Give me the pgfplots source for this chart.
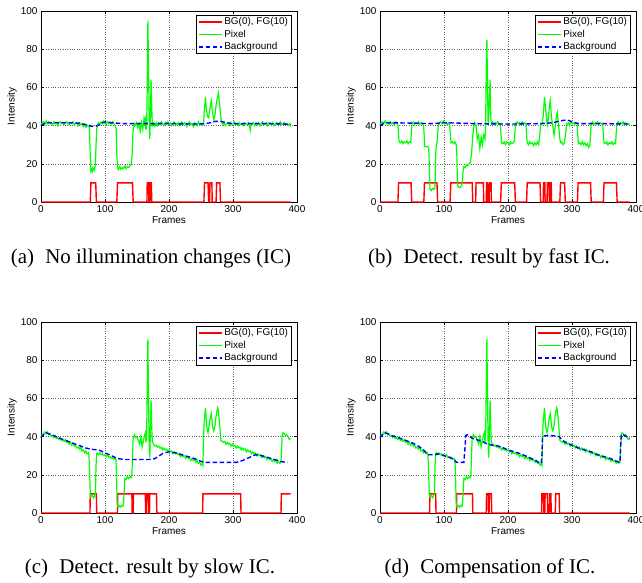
\documentclass[border=0pt]{standalone}
\usepackage{fontspec}
\setmainfont{Liberation Serif}
\newfontfamily\hv{Liberation Sans}
\usepackage{pgfplots}
\usepackage{pgfplotstable}
\pgfplotsset{compat=1.18}

% ---------- data ----------
\pgfplotstableread{
x y
0 40
2 41.5
4 42
6 40.5
8 42.5
10 41
12 42
14 41
16 41.5
18 40.5
20 42
22 41
24 41.5
26 40
28 41.5
30 42
32 41
34 41.5
36 40.5
38 41.5
40 42
42 41
44 40.5
46 41.5
48 41
50 42
52 40.5
54 41
56 41.5
58 40
60 41.5
62 40.5
64 41
66 39.5
68 40.5
70 39
72 40
74 39.5
75.5 40
76.5 30
77.5 18
78 16
79 17
80 16
81 18
82 17
83 16.5
84 18
85 19
86 30
87 38
88 40
90 41.5
92 40.5
94 42
96 41
98 42.5
100 41
102 40.5
104 42
106 41
108 41.5
110 40.5
112 42
114 41
116 40
117.5 38
118.5 25
119.5 18
121 17
123 18.5
125 17
127 18
129 17.5
131 19
133 17.5
135 18.5
137 18
139 19
141 19.5
142.5 25
143.5 35
144.5 39
145.5 41
147 40
149 41.5
151 39
153 41
155 37
157 41.5
159 38
161 44
163 40
164 45
165 38
166 60
167 95
168 70
169 45
170 33
171 45
172 64
173 50
174 40
176 41
178 39.5
180 41.5
182 40
184 41.5
186 40.5
188 42
190 41
192 40
194 41.5
196 41
198 42
200 40.5
202 41.5
204 40
206 41
208 42
210 41
212 40.5
214 41.5
216 40
218 41
220 42
222 40.5
224 41.5
226 41
228 39.5
230 41
232 42
234 40.5
236 41
238 39.5
240 41.5
242 41
244 40
246 42
248 40.5
250 41
252 40
254 41
255 47
257 55
258 50
260 45
262 44
264 49
266 53
268 47
270 43
272 46
274 52
276 55
277 57
279 52
281 44
282 42
284 40.5
286 41.5
288 40
290 41
292 41.5
294 40
296 41.5
298 40.5
300 41
302 42
304 40.5
306 41
308 40
310 41.5
312 40.5
314 41
316 40
318 41.5
320 41
322 40.5
324 41.5
326 39
327 37.5
328 40
330 41
332 41.5
334 40
336 41.5
338 40.5
340 41.5
342 40
344 41
346 42
348 40.5
350 41
352 41.5
354 40
356 41.5
358 41
360 40.5
362 41.5
364 40
366 41
368 41.5
370 40.5
372 41
374 42
376 40.5
378 41
380 41.5
382 40.5
384 41
386 40
388 41
390 39.5
}\pixA

\pgfplotstableread{
x y
0 40
5 41
10 41.5
30 41.5
50 41.5
60 41.2
70 40.5
78 39.7
84 39.5
90 40.2
96 41.5
102 42
110 41.5
130 41
150 41
200 41
240 40.8
255 41
265 41.5
272 42.2
280 42.3
290 41.5
300 41
330 41
360 41
390 40.7
}\bgA

\pgfplotstableread{
x y
0 0
77 0
78 10
85.5 10
86.5 0
118.5 0
119.5 10
143 10
144 0
165.5 0
166 10
168 10
168.5 0
170 0
170.5 10
172.5 10
173 0
254.5 0
255.5 10
261 10
262 0
263.5 0
264 10
267 10
267.5 0
273.5 0
274.5 10
279.5 10
280.5 0
390 0
}\fgA

\pgfplotstableread{
x y
0 40
2 41.5
4 42
6 41
8 42.5
10 41
12 41.5
14 40.5
16 42
18 41
20 41.5
22 40.5
24 42
26 41.5
28 40
29 35
30 31.5
32 31
34 32
36 30.5
38 31.5
40 31
42 32
44 30.5
46 31.5
48 31
49 36
50 41
52 42
54 40.5
56 41.5
58 41
60 42
62 40.5
64 41.5
66 41
68 40.5
69 35
70 29
72 29
74 29
76 28.5
77 20
78 7
80 6
82 7
84 6.5
86 8
87 25
88 30
89 31
90 35
91 40
93 41.5
95 42
97 41
99 42.5
101 41
103 41.5
105 40.5
107 41.5
109 40
110 35
111 31
113 31.5
115 30.5
117 31.5
119 30
120 25
121 10
122 8
124 7.5
126 8
128 9
129 12
130 17
131 18.5
133 18
135 19.5
137 19
139 20
141 20.5
143 25
145 35
147 40
148 41.5
150 40
152 33
154 35
156 28
158 34
160 30
162 35
164 33
165 40
166 70
167 85
168 60
169 40
170 45
171 55
172 64
173 45
174 41
176 42
178 40.5
180 41.5
182 41
184 42
186 40.5
188 41
189 35
190 31
192 30.5
194 31.5
196 30
198 31.5
200 31
202 30
204 31.5
206 30.5
208 31
210 32
211 38
212 41
214 42
216 41
218 41.5
220 40.5
222 42
224 41
226 41.5
228 40.5
229 35
230 31
232 30
234 31.5
236 30.5
238 31
240 29.5
242 31
244 30
246 31.5
248 30
250 36
251 41
253 40.5
255 45
257 55
259 48
261 41
262 40
264 48
266 53
268 44
270 40
272 35
274 40
276 46
277 47
279 40
281 33
282 31
284 31.5
286 30
288 31
290 36
292 41
294 41.5
296 40
298 42
300 41
302 41.5
304 40.5
306 41.5
308 41
309 35
310 30.5
312 31
314 30
316 31.5
318 30
320 31
322 29.5
324 30.5
326 28.5
328 30
329 36
330 41
332 42
334 40.5
336 41.5
338 41
340 42
342 40.5
344 41.5
346 41
348 40.5
349 36
350 31
352 30.5
354 31.5
356 30
358 31
360 30.5
362 31.5
364 30
366 31
368 30.5
369 36
370 41
372 42
374 40.5
376 41.5
378 41
380 42
382 41
384 41.5
386 40.5
388 41
390 40
}\pixB

\pgfplotstableread{
x y
0 40
5 41
10 41.5
50 41.3
80 41
100 41.5
150 41
200 40.8
250 41
270 41.5
282 42.5
292 43
300 42
310 41
350 41
390 40.8
}\bgB

\pgfplotstableread{
x y
0 0
28 0
29 10
48.5 10
49.5 0
68.5 0
69.5 10
89 10
90 0
109.5 0
110.5 10
144 10
145 0
149.5 0
150 10
161.5 10
162 0
166 0
166.5 10
168 10
168.5 0
170.5 0
171 10
173.5 10
174 0
188.5 0
189.5 10
210.5 10
211.5 0
229 0
230 10
250 10
251 0
255 0
255.5 10
257.5 10
258 0
261 0
261.5 10
264 10
264.5 0
265.5 0
266 10
267.5 10
268 0
281 0
282 10
288.5 10
289.5 0
308.5 0
309.5 10
329 10
330 0
349 0
350 10
369.5 10
370.5 0
390 0
}\fgB

\pgfplotstableread{
x y
0 39.5
2 41
4 41.5
6 42.5
8 41.5
10 42.5
12 41
14 41.5
16 40
18 40.5
20 39.5
22 40.5
24 39
26 39.5
28 38.5
30 39.5
32 38
34 38.5
36 37.5
38 38.5
40 37
42 37.5
44 36
46 37
48 35.5
50 36.5
52 35
54 35.5
56 34
58 34.5
60 33.5
62 34.5
64 32.5
66 33
68 31.5
70 32.5
72 31
74 31.5
75 30
76 20
77 10
78 8.5
80 9.5
82 8
84 9
85 10
86 25
87 31
88 31.5
90 30.5
92 31.5
94 30.5
96 31
98 30
100 30.5
102 29.5
104 30.5
106 29
108 29.5
110 28.5
112 29
114 28
116 28.5
117 28
118 20
119 5
120 3.5
122 4
124 3
126 4
128 3.5
129 5
130 12
131 18
133 17.5
135 19
137 18
139 19
141 18.5
142 20
143 30
144 39
146 41
148 39.5
150 40
152 38
154 36
156 40
158 34.5
160 38
162 41
163 42
164 37
165 40
166 65
167 91
168 60
169 35
170 29
171 45
172 59
173 45
174 37
176 36
178 35
180 35.5
182 34.5
184 35
186 34
188 34.5
190 33
192 34
194 33
196 33.5
198 32.5
200 33
202 32
204 32.5
206 31
208 32
210 31
212 31.5
214 30.5
216 31
218 29.5
220 30.5
222 29.5
224 30
226 28.5
228 29.5
230 28.5
232 29
234 27.5
236 28.5
238 27.5
240 28
242 26.5
244 27.5
246 26
248 26.5
250 25
252 26
253 25
254 40
255 48
257 55
258 50
259 45
261 42
262 44
264 49
266 52
267 49
268 45
270 43
272 46
274 52
276 55
277 54
279 47
281 38
283 37.5
285 37
287 37.5
289 36
291 37
293 36
295 36.5
297 35
299 36
301 35
303 35.5
305 34
307 35
309 34
311 34.5
313 33
315 34
317 33
319 33.5
321 32
323 33
325 32
327 32.5
329 31
331 32
333 31
335 31.5
337 30
339 31
341 30
343 30.5
345 29
347 30
349 29
351 29.5
353 28
355 29
357 28
359 28.5
361 27
363 28
365 27
367 27.5
369 26
371 27
373 26
375 26.5
376 35
377 41
378 42
380 41.5
382 40.5
384 41
386 40
388 38.5
390 39
}\pixC

\pgfplotstableread{
x y
0 39.5
4 41
8 42
12 41.5
20 40.5
30 39
40 37.8
50 36.5
60 35.3
70 34
80 33.3
90 33
100 31.5
110 30
120 28.5
130 28
150 28
170 28
178 28.5
185 30
192 31.5
200 32
210 31.5
220 30.5
230 29.5
240 28.5
250 27
258 26.5
280 26.5
305 26.5
315 27.5
325 29
335 30.5
345 30
355 29
365 28
375 27
382 26.5
385 26.5
}\bgC

\pgfplotstableread{
x y
0 0
76.5 0
77 10
86.5 10
87 0
119.5 0
120 10
142 10
142.5 0
144 0
144.5 10
163 10
163.5 0
165 0
165.5 10
168 10
168.5 0
169.5 0
170 10
180.5 10
181 0
252.5 0
253 10
312 10
312.5 0
375 0
375.5 10
390 10
}\fgC

\pgfplotstableread{
x y
0 39.5
4 41
8 42
12 41.5
20 40.3
30 39.3
40 38
50 36.8
60 35
68 33
72 31.5
75 30.5
80 30.5
86 30.5
90 31
95 30.5
100 30
105 29.5
110 29
115 28
118 27
120 26.5
131 26.5
133 35
134 40.5
136 41
140 40
145 39
150 38.5
155 38
160 37.5
165 36.5
170 36
175 35.5
180 35.5
190 34.5
200 33
210 32
220 31
230 29.5
240 28
248 26.5
252 26
253 30
254 40
258 40.5
270 40.5
280 40
285 38
290 37
300 35.5
310 34
320 33
330 32
340 30.5
350 29.5
360 28.5
370 27
375 26.5
376 35
377 41
380 41
385 40
390 39
}\bgD

\pgfplotstableread{
x y
0 0
77.5 0
78 10
87 10
87.5 0
119.5 0
120 10
144.5 10
145 0
166 0
166.5 10
169 10
169.5 0
170.5 0
171 10
174 10
174.5 0
252.5 0
253 10
255.5 10
256 0
257.5 0
258 10
261.5 10
262 0
264.5 0
265 10
267 10
267.5 0
274 0
274.5 10
280 10
280.5 0
390 0
}\fgD

\definecolor{mred}{rgb}{1,0,0}
\definecolor{mgreen}{rgb}{0,1,0}
\definecolor{mblue}{rgb}{0,0,1}

\pgfplotsset{
  panel/.style={
    scale only axis, width=256bp, height=191bp,
    anchor=south west,
    xmin=0, xmax=400, ymin=0, ymax=100,
    xtick={0,100,...,400}, ytick={0,20,...,100},
    grid=major,
    major grid style={dotted, black!60, line width=0.5bp},
    tick align=inside, major tick length=3bp,
    axis line style={line width=0.6bp},
    every tick/.style={black, line width=0.5bp},
    clip=false,
    /pgf/number format/assume math mode=true,
    tick label style={font=\hv\fontsize{10}{12}\selectfont},
    label style={font=\hv\fontsize{10}{12}\selectfont},
    xlabel={Frames}, ylabel={Intensity},
    xlabel style={at={(axis description cs:0.5,-0.0969)}, anchor=center},
    ylabel style={at={(axis description cs:-0.1133,0.5)}, anchor=center, rotate=0},
    legend image code/.code={\draw[##1] (0bp,0bp) -- (23bp,0bp);},
    legend cell align=left,
    legend style={at={(0.980,0.979)}, anchor=north east,
      draw=black, line width=0.8bp, fill=white,
      font=\hv\fontsize{10}{12}\selectfont,
      inner xsep=1.5bp, inner ysep=0.5bp, row sep=0bp,
      nodes={inner xsep=2bp, inner ysep=1.5bp, text height=7.2bp, text depth=2.3bp}},
  },
  redl/.style={mred, line width=1.4bp},
  greenl/.style={mgreen, line width=1.2bp},
  bluel/.style={mblue, line width=1.4bp, dash pattern=on 4.5bp off 2.5bp},
}

\begin{document}
\begin{tikzpicture}[x=1bp,y=1bp]
\useasboundingbox (0,0) rectangle (642,583);

\begin{axis}[panel, at={(41bp,381bp)}]
\addplot[redl] table {\fgA};
\addplot[greenl] table {\pixA};
\addplot[bluel] table {\bgA};
\legend{{BG(0), FG(10)}, Pixel, Background}
\end{axis}

\begin{axis}[panel, at={(380bp,381bp)}]
\addplot[redl] table {\fgB};
\addplot[greenl] table {\pixB};
\addplot[bluel] table {\bgB};
\legend{{BG(0), FG(10)}, Pixel, Background}
\end{axis}

\begin{axis}[panel, at={(41bp,70bp)}]
\addplot[redl] table {\fgC};
\addplot[greenl] table {\pixC};
\addplot[bluel] table {\bgC};
\legend{{BG(0), FG(10)}, Pixel, Background}
\end{axis}

\begin{axis}[panel, at={(380bp,70bp)}]
\addplot[redl] table {\fgD};
\addplot[greenl] table {\pixC};
\addplot[bluel] table {\bgD};
\legend{{BG(0), FG(10)}, Pixel, Background}
\end{axis}

\begin{scope}[every node/.style={font=\fontsize{21}{25}\selectfont, anchor=base, inner sep=0pt}]
\node at (151,319) {(a)\hspace{6bp} No illumination changes (IC)};
\node at (489,319) {(b)\hspace{6bp} Detect. result by fast IC.};
\node at (150,9) {(c)\hspace{6bp} Detect. result by slow IC.};
\node at (490,9) {(d)\hspace{6bp} Compensation of IC.};
\end{scope}
\end{tikzpicture}
\end{document}
